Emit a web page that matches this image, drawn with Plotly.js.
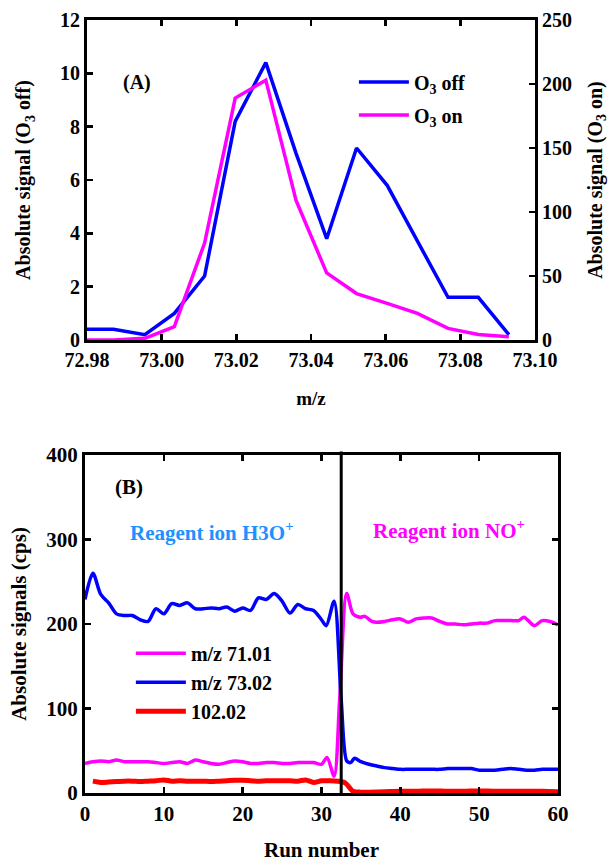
<!DOCTYPE html>
<html>
<head>
<meta charset="utf-8">
<script src="https://cdn.plot.ly/plotly-3.0.1.min.js"></script>
<style>html,body{margin:0;padding:0;background:#fff;}#chart{width:614px;height:862px;}</style>
</head>
<body>
<div id="chart"></div>
<script>
// ---------- Panel A data ----------
var mzA = [72.9800, 72.9871, 72.9955, 73.0034, 73.0115, 73.0197, 73.0279, 73.0360, 73.0442, 73.0522, 73.0604, 73.0685, 73.0767, 73.0848, 73.0930];
var o3Off = [0.4, 0.4, 0.2, 1.0, 2.4, 8.2, 10.4, 7.0, 3.8, 7.2, 5.8, 3.7, 1.6, 1.6, 0.2];
var o3On = [0, 0, 1.3, 10.4, 75.8, 189, 203, 109, 52.4, 36.3, 28.6, 20.8, 9.1, 4.4, 2.6];
var xTicksA = [72.98, 73.00, 73.02, 73.04, 73.06, 73.08, 73.10];
var xTickTextA = ["72.98", "73.00", "73.02", "73.04", "73.06", "73.08", "73.10"];

// ---------- Panel B data ----------
var runs7302 = [0,1,2,3,4,5,6,7,8,9,10,11,12,13,14,15,16,17,18,19,20,21,22,23,24,25,26,27,28,29,30,30.6,31.6,32.5,33.2,33.7,34.2,35,36,37,38,39,40,41,42,43,44,45,46,47,48,49,50,51,52,53,54,55,56,57,58,59,60];
var sig7302 = [229,260,235,225,212,210,210,205,203,218,212,224,222,225,218,218,219,218,220,215,219,216,231,229,236,227,213,223,218,216,205,198,227,110,38,36,41,37,34,32,30,29,28,28,28,28,28,28,29,29,29,29,27,27,27,28,29,28,27,27,28,28,28];
var runs7101 = [0,1,2,3,4,5,6,7,8,9,10,11,12,13,14,15,16,17,18,19,20,21,22,23,24,25,26,27,28,29,30,30.7,31.6,32.3,33.2,34.0,34.9,35.5,36.4,37,38,39,40,41,42,43,44,45,46,47,48,49,50,51,52,53,54,55,55.7,57,58,59,60];
var sig7101 = [35,37,38,37,39,37,37,37,37,36,35,36,37,35,39,37,35,34,36,38,37,35,35,36,36,35,35,36,36,36,34,42,20,110,236,212,208,209,203,202,203,205,206,202,206,207,207,203,200,200,199,200,201,201,204,204,204,204,208,198,204,203,199];
var runs10202 = [1,2,3,4,5,6,7,8,9,10,11,12,13,14,15,16,17,18,19,20,21,22,23,24,25,26,27,28,29,30,31,32,33,34,35,36,38,40,42,44,46,48,50,52,54,56,58,60];
var sig10202 = [14,12.5,13,13.5,14,14,13.5,14,14.5,15.5,14,14.5,14,14,14,13.5,14,14.5,15,15,14.5,14,14.5,14.5,14.5,14.5,14,15.5,12.5,14.5,14.5,14,12,2,1,1,1.5,2,2,2.5,2,2,2.5,2,2,2,2,1.5];
var switchRun = 32.5;

var serif = "Liberation Serif";
function f(sz, col) { return {family: serif, size: sz, color: col || "#000", weight: "bold"}; }

var traces = [
  {x: mzA, y: o3Off, type: "scatter", mode: "lines", name: "O<sub>3</sub> off",
   line: {color: "#0000ff", width: 3.5}, xaxis: "x", yaxis: "y", legend: "legend", legendgroup: "a1"},
  {x: mzA, y: o3On, type: "scatter", mode: "lines", name: "O<sub>3</sub> on",
   line: {color: "#ff00ff", width: 3.5}, xaxis: "x", yaxis: "y2", legend: "legend", legendgroup: "a2"},
  {x: runs7101, y: sig7101, type: "scatter", mode: "lines", name: "m/z 71.01",
   line: {color: "#ff00ff", width: 3.5, shape: "spline", smoothing: 0.8}, xaxis: "x2", yaxis: "y3", legend: "legend2"},
  {x: runs7302, y: sig7302, type: "scatter", mode: "lines", name: "m/z 73.02",
   line: {color: "#0000ff", width: 3.5, shape: "spline", smoothing: 0.8}, xaxis: "x2", yaxis: "y3", legend: "legend2"},
  {x: runs10202, y: sig10202, type: "scatter", mode: "lines", name: "102.02",
   line: {color: "#ff0000", width: 5, shape: "spline", smoothing: 0.8}, xaxis: "x2", yaxis: "y3", legend: "legend2"}
];

var axBase = {showgrid: false, zeroline: false, showline: true, linecolor: "#000", linewidth: 3,
  ticks: "inside", ticklen: 6, tickwidth: 2.5, tickcolor: "#000"};

var layout = {
  width: 614, height: 862,
  margin: {l: 85, r: 56, t: 20, b: 69},
  paper_bgcolor: "#fff", plot_bgcolor: "#fff",
  font: f(20),
  xaxis: Object.assign({}, axBase, {domain: [0.0042, 0.9514], anchor: "y", range: [72.98, 73.10],
    tickvals: xTicksA, ticktext: xTickTextA, mirror: "ticks", tickfont: f(20),
    title: {text: "m/z", font: f(19), standoff: 22}}),
  yaxis: Object.assign({}, axBase, {domain: [0.586, 1.0], anchor: "x", range: [0, 12], dtick: 2,
    tickfont: f(20), title: {text: "Absolute signal (O<sub>3</sub> off)", font: f(20), standoff: 24}}),
  yaxis2: Object.assign({}, axBase, {overlaying: "y", side: "right", anchor: "x", range: [0, 250], dtick: 50,
    tickfont: f(20), title: {text: "Absolute signal (O<sub>3</sub> on)", font: f(20), standoff: 17}}),
  xaxis2: Object.assign({}, axBase, {domain: [0, 1], anchor: "y3", range: [0, 60], dtick: 10, mirror: "ticks",
    tickfont: f(21), title: {text: "Run number", font: f(21), standoff: 18}}),
  yaxis3: Object.assign({}, axBase, {domain: [0, 0.4373], anchor: "x2", range: [0, 400], dtick: 100, mirror: "ticks",
    tickfont: f(21), title: {text: "Absolute signals (cps)", font: f(21), standoff: 14}}),
  legend: {x: 0.5685, y: 0.945, xanchor: "left", yanchor: "top", bgcolor: "rgba(0,0,0,0)",
    font: f(20), traceorder: "grouped", tracegroupgap: 4, itemwidth: 50},
  legend2: {x: 0.097, y: 0.206, xanchor: "left", yanchor: "top", bgcolor: "rgba(0,0,0,0)",
    font: f(20), itemwidth: 50},
  shapes: [
    {type: "line", xref: "x2", yref: "y3 domain", x0: switchRun, x1: switchRun, y0: 0, y1: 1.01,
     line: {color: "#000", width: 3}}
  ],
  annotations: [
    {xref: "x", yref: "y", x: 72.9934, y: 9.64, text: "(A)", showarrow: false, font: f(20)},
    {xref: "x2", yref: "y3", x: 5.6, y: 362, text: "(B)", showarrow: false, font: f(21)},
    {xref: "x2", yref: "y3", x: 16.1, y: 309, text: "Reagent ion H3O<sup>+</sup>", showarrow: false, font: f(21, "#1e90ff")},
    {xref: "x2", yref: "y3", x: 46.2, y: 312, text: "Reagent ion NO<sup>+</sup>", showarrow: false, font: f(21, "#ff00ff")}
  ],
  showlegend: true
};

Plotly.newPlot("chart", traces, layout, {displayModeBar: false, staticPlot: true});
</script>
</body>
</html>
